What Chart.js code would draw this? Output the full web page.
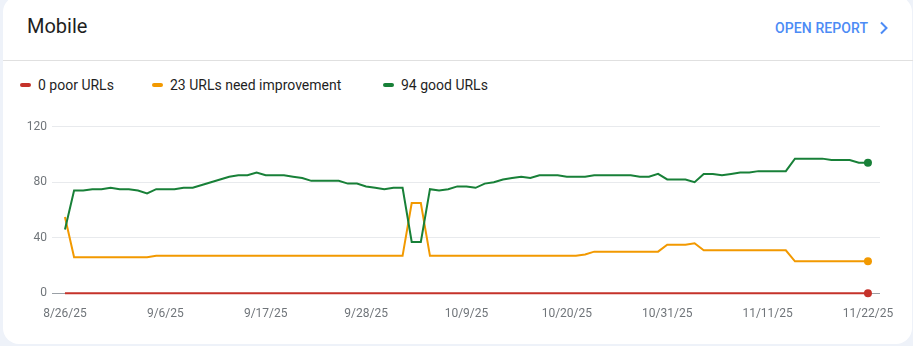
<!DOCTYPE html>
<html>
<head>
<meta charset="utf-8">
<script src="https://cdn.jsdelivr.net/npm/chart.js@4.4.1/dist/chart.umd.min.js"></script>
<style>
  html, body { margin: 0; padding: 0; background: #eef2f9; width: 913px; height: 346px; overflow: hidden; font-family: Roboto, Arial, sans-serif; }
  #card { position: absolute; left: 3px; top: -4px; width: 909px; height: 348px; background: #fff; border-radius: 16px; }
  #title { position: absolute; left: 27px; top: 14px; font-size: 20px; color: #1f1f1f; }
  #open { position: absolute; left: 775px; top: 20px; font-size: 14px; font-weight: 500; color: #4c8bf5; letter-spacing: 0.1px; }
  #chev { position: absolute; left: 879px; top: 21px; width: 10px; height: 14px; }
  #divider { position: absolute; left: 3px; top: 60px; width: 910px; height: 1px; background: #e0e0e0; }
  #legend { position: absolute; left: 0; top: 76px; height: 18px; font-size: 14px; color: #1f1f1f; }
  .item { position: absolute; top: 0; white-space: nowrap; line-height: 18px; }
  .sw { position: absolute; top: 7px; width: 11px; height: 4px; border-radius: 2px; }
  #wrap { position: absolute; left: 0; top: 110px; width: 913px; height: 236px; }
</style>
</head>
<body>
<div id="card"></div>
<div id="title">Mobile</div>
<div id="open">OPEN REPORT</div>
<svg id="chev" viewBox="0 0 10 14"><path d="M2 1.5 L7.5 7 L2 12.5" fill="none" stroke="#4c8bf5" stroke-width="2"/></svg>
<div id="divider"></div>
<div id="legend"></div>
<div id="wrap"><canvas id="mycanvas" width="913" height="236"></canvas></div>
<script>
// one point per day, 8/26/25 .. 11/22/25
var xTickLabels = ['8/26/25', '9/6/25', '9/17/25', '9/28/25', '10/9/25', '10/20/25', '10/31/25', '11/11/25', '11/22/25'];
var seriesNames = ['0 poor URLs', '23 URLs need improvement', '94 good URLs'];
var seriesColors = ['#c5322a', '#f29900', '#188038'];

var poor = [0,0,0,0,0,0,0,0,0,0, 0,0,0,0,0,0,0,0,0,0, 0,0,0,0,0,0,0,0,0,0,
  0,0,0,0,0,0,0,0,0,0, 0,0,0,0,0,0,0,0,0,0, 0,0,0,0,0,0,0,0,0,0,
  0,0,0,0,0,0,0,0,0,0, 0,0,0,0,0,0,0,0,0,0, 0,0,0,0,0,0,0,0,0];

var needsImprovement = [55,26,26,26,26,26,26,26,26,26, 27,27,27,27,27,27,27,27,27,27,
  27,27,27,27,27,27,27,27,27,27, 27,27,27,27,27,27,27,27,65,65,
  27,27,27,27,27,27,27,27,27,27, 27,27,27,27,27,27,27,28,30,30,
  30,30,30,30,30,30,35,35,35,36, 31,31,31,31,31,31,31,31,31,31,
  23,23,23,23,23,23,23,23,23];

var good = [46,74,74,75,75,76,75,75,74,72, 75,75,75,76,76,78,80,82,84,85,
  85,87,85,85,85,84,83,81,81,81, 81,79,79,77,76,75,76,76,37,37,
  75,74,75,77,77,76,79,80,82,83, 84,83,85,85,85,84,84,84,85,85,
  85,85,85,84,84,86,82,82,82,80, 86,86,85,86,87,87,88,88,88,88,
  97,97,97,97,96,96,96,94,94];

var legend = document.getElementById('legend');
var legendX = [20, 152, 383];
seriesNames.forEach(function(name, i) {
  var it = document.createElement('div');
  it.className = 'item';
  it.style.left = legendX[i] + 'px';
  it.innerHTML = '<span class="sw" style="left:0;background:' + seriesColors[i] + '"></span>' +
    '<span style="margin-left:18px">' + name + '</span>';
  legend.appendChild(it);
});

function toPoints(arr) {
  var pts = [];
  for (var i in arr) pts.push({ x: Number(i), y: arr[i] });
  return pts;
}

function lastDot(arr) {
  return function(ctx) { return ctx.dataIndex === arr.length - 1 ? 4 : 0; };
}

var all = [poor, needsImprovement, good];
var datasets = all.map(function(arr, i) {
  return {
    label: seriesNames[i],
    data: toPoints(arr),
    borderColor: seriesColors[i],
    backgroundColor: seriesColors[i],
    borderWidth: 2,
    tension: 0,
    clip: false,
    pointRadius: lastDot(arr),
    pointHoverRadius: 0,
    pointBorderWidth: 0,
    order: 3 - i
  };
});

var ctx = document.getElementById('mycanvas');
var lineGraph = new Chart(ctx, {
  type: 'line',
  data: { datasets: datasets },
  options: {
    responsive: false,
    animation: false,
    layout: { padding: { top: 16.7, right: 33, bottom: 12.7, left: 0 } },
    plugins: { legend: { display: false }, tooltip: { enabled: false } },
    scales: {
      x: {
        type: 'linear',
        min: -1.42,
        max: 89.32,
        afterBuildTicks: function(scale) {
          scale.ticks = xTickLabels.map(function(l, i) { return { value: i * 11 }; });
        },
        afterFit: function(scale) { scale.height = 40; },
        grid: { display: false, drawTicks: false },
        border: { display: false },
        ticks: {
          autoSkip: false,
          maxRotation: 0,
          padding: 13,
          color: '#70757a',
          font: { family: 'Roboto', size: 12 },
          callback: function(v) { return xTickLabels[Math.round(v / 11)]; }
        }
      },
      y: {
        min: 0,
        max: 120,
        afterFit: function(scale) { scale.width = 52; },
        grid: {
          drawTicks: false,
          color: function(c) { return c.tick && c.tick.value === 0 ? '#9aa0a6' : '#e8eaed'; },
          lineWidth: 1
        },
        border: { display: false },
        ticks: {
          stepSize: 40,
          padding: 5,
          color: '#70757a',
          font: { family: 'Roboto', size: 12 }
        }
      }
    }
  }
});
</script>
</body>
</html>
